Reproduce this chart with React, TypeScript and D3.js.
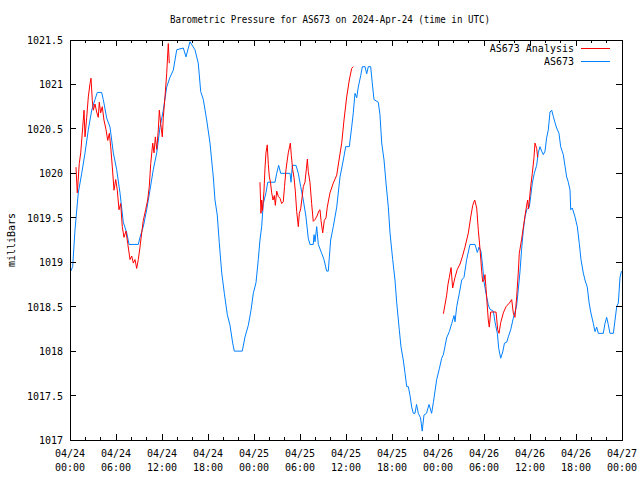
import React from "react";
import * as d3 from "d3";

// Hours after 2024-04-24 00:00 UTC, pressure in millibars
const stationHours = [0.1,0.35,0.65,1.08,1.53,1.96,2.39,2.83,3.26,3.56,4.13,4.34,4.79,5.22,5.65,6.09,6.52,6.95,7.4,7.7,8.91,9.13,9.56,10.0,10.43,10.86,11.31,11.74,12.17,12.61,13.04,13.47,13.92,14.78,15.13,15.65,16.3,16.73,17.05,17.39,17.83,18.26,18.69,18.91,19.21,19.47,19.79,20.13,20.52,20.87,21.22,21.43,22.47,22.83,23.26,23.61,23.91,24.26,24.56,24.78,25.0,25.21,25.56,25.79,26.74,26.96,27.22,27.48,28.7,28.83,29.0,29.48,29.78,30.09,30.43,30.78,31.08,31.3,31.73,31.83,31.96,32.18,32.39,32.83,33.13,33.48,33.69,33.82,34.0,34.34,34.79,35.22,35.65,35.96,36.43,36.74,36.95,37.17,37.4,37.6,37.92,38.13,38.48,38.7,38.91,39.22,39.48,39.65,40.21,40.43,40.66,40.96,41.22,41.52,41.74,42.09,42.39,42.61,42.95,43.17,43.47,43.7,43.92,44.13,44.35,44.57,44.78,45.0,45.2,45.43,45.72,45.94,46.17,46.5,46.83,47.17,47.39,47.61,47.83,48.17,48.48,48.7,49.13,49.48,49.79,50.09,50.22,50.44,50.78,51.09,51.39,51.74,52.17,52.83,53.13,53.35,53.61,53.83,54.0,54.26,54.56,54.78,55.22,55.43,55.74,55.92,56.18,56.44,56.67,56.96,57.17,57.48,57.82,58.24,58.47,58.7,58.91,59.13,59.35,59.57,59.91,60.09,60.3,60.56,60.87,61.08,61.3,61.52,61.74,61.96,62.17,62.39,62.61,62.83,63.04,63.26,63.48,63.78,64.0,64.34,64.57,64.78,65.0,65.22,65.31,65.52,65.87,66.17,66.43,66.65,66.95,67.17,67.47,67.7,67.92,68.26,68.48,68.7,68.91,69.56,69.78,70.0,70.21,70.43,70.87,71.09,71.31,71.52,71.74,71.93];
const stationValues = [1018.9,1018.95,1019.36,1019.78,1020.0,1020.23,1020.49,1020.71,1020.83,1020.91,1020.91,1020.83,1020.62,1020.52,1020.23,1020.04,1019.78,1019.45,1019.33,1019.2,1019.2,1019.28,1019.4,1019.59,1019.81,1020.04,1020.23,1020.52,1020.71,1020.97,1021.08,1021.16,1021.39,1021.41,1021.31,1021.48,1021.39,1021.24,1020.92,1020.83,1020.6,1020.34,1019.96,1019.7,1019.53,1019.22,1018.88,1018.65,1018.41,1018.29,1018.09,1018.0,1018.0,1018.16,1018.29,1018.46,1018.65,1018.77,1019.03,1019.25,1019.4,1019.66,1019.78,1019.9,1019.9,1020.0,1020.09,1020.0,1020.0,1019.9,1020.09,1020.09,1020.0,1019.85,1019.7,1019.51,1019.27,1019.2,1019.2,1019.31,1019.23,1019.4,1019.2,1019.1,1019.03,1018.9,1018.9,1019.05,1019.25,1019.4,1019.62,1019.96,1020.15,1020.3,1020.3,1020.52,1020.68,1020.9,1020.85,1020.97,1021.1,1021.2,1021.2,1021.12,1021.2,1021.2,1020.97,1020.83,1020.8,1020.66,1020.34,1020.15,1019.89,1019.62,1019.33,1019.03,1018.8,1018.55,1018.24,1018.05,1017.9,1017.75,1017.6,1017.6,1017.5,1017.37,1017.3,1017.3,1017.4,1017.3,1017.25,1017.1,1017.28,1017.3,1017.4,1017.3,1017.42,1017.55,1017.68,1017.8,1017.92,1017.96,1018.15,1018.22,1018.31,1018.4,1018.33,1018.5,1018.65,1018.8,1018.83,1019.03,1019.2,1019.2,1019.11,1019.17,1019.12,1018.95,1018.78,1018.65,1018.52,1018.47,1018.45,1018.33,1018.2,1018.03,1017.92,1017.99,1018.09,1018.1,1018.16,1018.24,1018.37,1018.5,1018.69,1018.9,1019.15,1019.36,1019.51,1019.59,1019.62,1019.74,1019.89,1020.0,1020.09,1020.23,1020.3,1020.25,1020.21,1020.25,1020.4,1020.49,1020.69,1020.71,1020.64,1020.57,1020.51,1020.45,1020.3,1020.21,1020.08,1019.96,1019.9,1019.81,1019.59,1019.61,1019.51,1019.4,1019.21,1019.03,1018.88,1018.8,1018.72,1018.55,1018.44,1018.31,1018.22,1018.27,1018.2,1018.2,1018.31,1018.38,1018.3,1018.2,1018.2,1018.35,1018.5,1018.54,1018.83,1018.9];

const analysis1Hours = [0.78,0.95,1.21,1.4,1.66,1.83,1.96,2.18,2.39,2.61,2.74,2.91,3.04,3.26,3.48,3.69,3.82,4.0,4.21,4.43,4.7,4.92,5.13,5.31,5.52,5.74,5.96,6.17,6.39,6.61,6.82,7.04,7.3,7.53,7.83,8.05,8.26,8.48,8.7,8.91,9.13,9.35,9.56,9.87,10.13,10.34,10.53,10.79,10.96,11.13,11.31,11.52,11.65,11.83,12.04,12.17,12.39,12.61,12.82,12.95];
const analysis1Values = [1020.07,1019.78,1020.11,1020.23,1020.52,1020.71,1020.41,1020.63,1020.86,1021.01,1021.07,1020.82,1020.71,1020.78,1020.69,1020.63,1020.8,1020.68,1020.75,1020.6,1020.49,1020.37,1020.45,1020.3,1020.07,1019.81,1019.93,1019.81,1019.59,1019.66,1019.4,1019.28,1019.35,1019.21,1019.03,1019.07,1018.99,1019.03,1018.93,1019.03,1019.17,1019.33,1019.47,1019.59,1019.7,1019.85,1020.11,1020.34,1020.23,1020.41,1020.27,1020.49,1020.71,1020.56,1020.41,1020.63,1020.86,1021.12,1021.46,1021.24];

const analysis2Hours = [24.78,24.91,25.0,25.11,25.3,25.43,25.56,25.73,25.87,26.0,26.15,26.31,26.48,26.65,26.78,26.96,27.17,27.39,27.61,27.82,27.98,28.17,28.34,28.47,28.74,28.87,29.05,29.22,29.39,29.57,29.78,29.91,30.09,30.26,30.43,30.65,30.83,30.96,31.08,31.3,31.52,31.73,31.96,32.22,32.48,32.61,32.74,32.96,33.17,33.39,33.56,33.91,34.34,34.79,35.09,35.44,35.74,36.09,36.43,36.74,36.95];
const analysis2Values = [1019.9,1019.55,1019.7,1019.58,1019.8,1020.05,1020.23,1020.32,1020.1,1019.96,1019.9,1019.78,1019.7,1019.75,1019.64,1019.8,1019.74,1019.72,1019.66,1019.68,1019.85,1020.04,1020.15,1020.23,1020.34,1020.2,1020.04,1019.95,1019.8,1019.57,1019.4,1019.55,1019.6,1019.72,1019.85,1019.9,1020.05,1020.16,1020.02,1019.9,1019.66,1019.46,1019.48,1019.52,1019.58,1019.59,1019.47,1019.33,1019.47,1019.5,1019.62,1019.78,1019.89,1019.98,1020.15,1020.34,1020.6,1020.86,1021.05,1021.18,1021.2];

const analysis3Hours = [48.7,48.91,49.13,49.3,49.48,49.7,49.91,50.09,50.22,50.52,50.87,51.17,51.52,51.96,52.27,52.53,52.79,53.05,53.26,53.48,53.7,53.83,54.0,54.13,54.35,54.56,54.69,54.87,55.22,55.57,55.79,55.96,56.18,56.52,56.87,57.3,57.61,57.82,58.04,58.26,58.47,58.6,58.91,59.21,59.47,59.69,59.8,60.09,60.3,60.52,60.65,60.87,61.0];
const analysis3Values = [1018.42,1018.52,1018.63,1018.75,1018.83,1018.94,1018.71,1018.78,1018.83,1018.92,1018.98,1019.06,1019.17,1019.33,1019.51,1019.64,1019.7,1019.61,1019.36,1019.15,1018.9,1018.78,1018.8,1018.86,1018.6,1018.35,1018.27,1018.44,1018.44,1018.44,1018.24,1018.2,1018.32,1018.43,1018.5,1018.54,1018.58,1018.43,1018.38,1018.61,1018.88,1019.1,1019.26,1019.44,1019.59,1019.7,1019.6,1019.85,1020.0,1020.18,1020.34,1020.28,1020.18];

const yTicks = [1017, 1017.5, 1018, 1018.5, 1019, 1019.5, 1020, 1020.5, 1021, 1021.5];
const yDomain = [1017, 1021.5];
const seriesNames = ["AS673 Analysis", "AS673"];
const seriesColors = ["#ff0000", "#0080ff"];
const title = "Barometric Pressure for AS673 on 2024-Apr-24 (time in UTC)";
const yLabel = "milliBars";

const t0 = Date.UTC(2024, 3, 24, 0, 0, 0);
const toDate = (h: number) => new Date(t0 + h * 3600e3);

export default function App() {
  const W = 640, H = 480;
  const m = { left: 70, right: 18, top: 40, bottom: 40 };
  const x = d3.scaleUtc().domain([toDate(0), toDate(72)]).range([m.left, W - m.right]);
  const y = d3.scaleLinear().domain(yDomain).range([H - m.bottom, m.top]);
  const font = "'DejaVu Sans Mono', monospace";

  const line = d3.line<[number, number]>().x(d => x(toDate(d[0]))).y(d => y(d[1]));
  const zip = (hs: number[], vs: number[]) => hs.map((h, i) => [h, vs[i]] as [number, number]);
  const station = zip(stationHours, stationValues);
  const analysis = [zip(analysis1Hours, analysis1Values), zip(analysis2Hours, analysis2Values), zip(analysis3Hours, analysis3Values)];

  const majorX = x.ticks(d3.utcHour.every(6)!);
  const minorX = x.ticks(d3.utcHour.every(2)!);
  const fmtD = d3.utcFormat("%m/%d");
  const fmtT = d3.utcFormat("%H:%M");
  const x0 = m.left, x1 = W - m.right, y0 = m.top, y1 = H - m.bottom;

  return (
    <svg width={W} height={H} style={{ position: "absolute", left: 0, top: 0, background: "#fff" }} fontFamily={font}>
      <rect x={0} y={0} width={W} height={H} fill="#fff" />
      <text x={330} y={23} textAnchor="middle" fontSize={10} textLength={320} lengthAdjust="spacingAndGlyphs">{title}</text>
      <clipPath id="plot"><rect x={x0} y={y0 - 1} width={x1 - x0} height={y1 - y0 + 2} /></clipPath>
      <g clipPath="url(#plot)" fill="none" strokeWidth={1}>
        <path d={line(station) || ""} stroke={seriesColors[1]} />
        {analysis.map((seg, i) => <path key={i} d={line(seg) || ""} stroke={seriesColors[0]} />)}
      </g>
      <g stroke="#000" strokeWidth={1} shapeRendering="crispEdges">
        {minorX.map((d, i) => (
          <g key={"mx" + i}>
            <line x1={x(d)} x2={x(d)} y1={y1} y2={y1 - 3} />
            <line x1={x(d)} x2={x(d)} y1={y0} y2={y0 + 3} />
          </g>
        ))}
        {majorX.map((d, i) => (
          <g key={"Mx" + i}>
            <line x1={x(d)} x2={x(d)} y1={y1} y2={y1 - 6} />
            <line x1={x(d)} x2={x(d)} y1={y0} y2={y0 + 6} />
          </g>
        ))}
        {yTicks.map((v, i) => (
          <g key={"y" + i}>
            <line x1={x0} x2={x0 + 6} y1={y(v)} y2={y(v)} />
            <line x1={x1} x2={x1 - 6} y1={y(v)} y2={y(v)} />
          </g>
        ))}
        <rect x={x0} y={y0} width={x1 - x0} height={y1 - y0} fill="none" />
      </g>
      <g fontSize={10} fill="#000">
        {yTicks.map((v, i) => (
          <text key={i} x={x0 - 7} y={y(v) + 4} textAnchor="end">{String(v)}</text>
        ))}
        {majorX.map((d, i) => (
          <g key={i}>
            <text x={x(d)} y={y1 + 17} textAnchor="middle">{fmtD(d)}</text>
            <text x={x(d)} y={y1 + 31} textAnchor="middle">{fmtT(d)}</text>
          </g>
        ))}
        <text transform={`translate(15,${(y0 + y1) / 2}) rotate(-90)`} textAnchor="middle">{yLabel}</text>
      </g>
      <g fontSize={10}>
        {seriesNames.map((n, i) => (
          <g key={n}>
            <text x={574} y={52 + i * 13} textAnchor="end">{n}</text>
            <line x1={581} x2={610} y1={48.5 + i * 13} y2={48.5 + i * 13} stroke={seriesColors[i]} strokeWidth={1} />
          </g>
        ))}
      </g>
    </svg>
  );
}
